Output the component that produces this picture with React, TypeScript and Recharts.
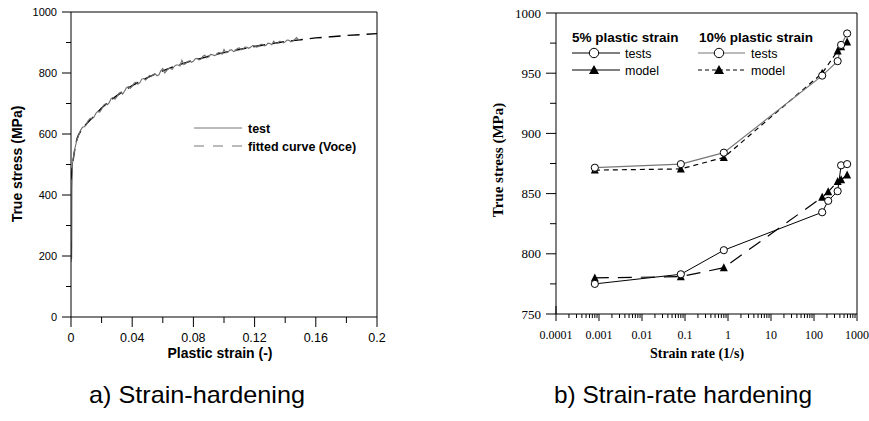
import React from 'react';
import { LineChart, Line, XAxis, YAxis, ReferenceLine } from 'recharts';

const SANS = 'Liberation Sans, Arial, sans-serif';
const SERIF = 'Liberation Serif, Times New Roman, serif';

// a) strain hardening
const strainTicks = [0, 0.02, 0.04, 0.06, 0.08, 0.1, 0.12, 0.14, 0.16, 0.18, 0.2];
const strainTickLabels = ['0', '', '0.04', '', '0.08', '', '0.12', '', '0.16', '', '0.2'];
const stressTicks = [0, 100, 200, 300, 400, 500, 600, 700, 800, 900, 1000];

const testStrain = [
  0, 0.0003, 0.0004, 0.0005, 0.0006, 0.001,
  0.0025, 0.00375, 0.005, 0.00625, 0.0075, 0.00875, 0.01, 0.01125, 0.0125, 0.01375, 0.015, 0.01625,
  0.0175, 0.01875, 0.02, 0.02125, 0.0225, 0.02375, 0.025, 0.02625, 0.0275, 0.02875, 0.03, 0.03125,
  0.0325, 0.03375, 0.035, 0.03625, 0.0375, 0.03875, 0.04, 0.04125, 0.0425, 0.04375, 0.045, 0.04625,
  0.0475, 0.04875, 0.05, 0.05125, 0.0525, 0.05375, 0.055, 0.05625, 0.0575, 0.05875, 0.06, 0.06125,
  0.0625, 0.06375, 0.065, 0.06625, 0.0675, 0.06875, 0.07, 0.07125, 0.0725, 0.07375, 0.075, 0.07625,
  0.0775, 0.07875, 0.08, 0.08125, 0.0825, 0.08375, 0.085, 0.08625, 0.0875, 0.08875, 0.09, 0.09125,
  0.0925, 0.09375, 0.095, 0.09625, 0.0975, 0.09875, 0.1, 0.10125, 0.1025, 0.10375, 0.105, 0.10625,
  0.1075, 0.10875, 0.11, 0.11125, 0.1125, 0.11375, 0.115, 0.11625, 0.1175, 0.11875, 0.12, 0.12125,
  0.1225, 0.12375, 0.125, 0.12625, 0.1275, 0.12875, 0.13, 0.13125, 0.1325, 0.13375, 0.135, 0.13625,
  0.1375, 0.13875, 0.14, 0.14125, 0.1425, 0.14375, 0.145, 0.14625, 0.1475, 0.14875, 0.15,
];
const testStress = [
  180, 250, 190, 230, 420, 505,
  552, 578, 596, 612, 622, 624, 630, 644, 651, 650, 655, 668,
  674, 672, 681, 694, 699, 696, 703, 716, 720, 714, 722, 733,
  737, 731, 740, 752, 755, 750, 756, 767, 770, 763, 768, 780,
  782, 777, 783, 792, 789, 795, 797, 791, 794, 808, 815, 800,
  808, 815, 815, 812, 822, 826, 826, 823, 842, 828, 831, 838,
  840, 835, 839, 847, 848, 843, 846, 855, 858, 850, 853, 861,
  860, 857, 860, 867, 866, 862, 877, 866, 868, 875, 876, 870,
  873, 880, 882, 876, 879, 885, 884, 881, 885, 890, 889, 885,
  887, 893, 894, 889, 891, 898, 897, 893, 904, 897, 898, 904,
  903, 899, 902, 908, 907, 902, 905, 910, 916, 908, 909,
];

const fitStrain = [
  0, 0.001, 0.002, 0.003, 0.004, 0.005, 0.0065, 0.008, 0.01, 0.0125, 0.015, 0.02, 0.025, 0.03,
  0.035, 0.04, 0.045, 0.05, 0.055, 0.06, 0.065, 0.07, 0.075, 0.08, 0.085, 0.09, 0.095, 0.1,
  0.105, 0.11, 0.115, 0.12, 0.125, 0.13, 0.135, 0.14, 0.145, 0.15, 0.16, 0.17, 0.18, 0.19, 0.2,
];
const fitStress = [
  450, 500, 535, 565, 585, 598, 610, 620, 633, 646, 658, 685, 707, 726,
  743, 759, 772, 785, 796, 807, 817, 826, 834, 841, 848, 855, 861, 867,
  872, 877, 882, 887, 891, 895, 899, 903, 906, 909, 915, 919, 923, 926, 929,
];

// b) strain-rate hardening
const rateDecades = [0.0001, 0.001, 0.01, 0.1, 1, 10, 100, 1000];
const rateLabels = ['0.0001', '0.001', '0.01', '0.1', '1', '10', '100', '1000'];
const rateStressTicks = [750, 775, 800, 825, 850, 875, 900, 925, 950, 975, 1000];

const rate5Test = [0.0008, 0.08, 0.8, 155, 214, 355, 427, 590];
const stress5Test = [775, 783, 803, 834.5, 844, 852, 873.5, 874.5];
const rate5Model = [0.0008, 0.08, 0.8, 155, 214, 355, 427, 590];
const stress5Model = [780, 781, 788.5, 847, 851.5, 860, 861.5, 865.5];
const rate10Test = [0.0008, 0.08, 0.8, 155, 355, 427, 590];
const stress10Test = [871.5, 874.5, 884, 948, 960, 973.5, 983];
const rate10Model = [0.0008, 0.08, 0.8, 155, 355, 427, 590];
const stress10Model = [869.5, 870.5, 880, 950, 968.5, 972, 976];

const pts = (xs: number[], ys: number[]) => xs.map((x, i) => ({ x, y: ys[i] }));

const rateTicks: number[] = [];
rateDecades.forEach((d, i) => {
  rateTicks.push(d);
  if (i < rateDecades.length - 1) for (let m = 2; m < 10; m++) rateTicks.push(d * m);
});

const Circle = (p: any) =>
  p.cx == null ? null : <circle key={p.index} cx={p.cx} cy={p.cy} r={3.6} fill="#fff" stroke="#000" strokeWidth={1} />;

const Tri = (p: any) =>
  p.cx == null ? null : (
    <path key={p.index} d={`M${p.cx - 4},${p.cy + 3.5}L${p.cx + 4},${p.cy + 3.5}L${p.cx},${p.cy - 4.5}Z`} fill="#000" />
  );

function LeftYTick({ x, y, index }: any) {
  const major = index % 2 === 0;
  return (
    <g>
      <line x1={x - (major ? 9 : 5)} x2={x} y1={y} y2={y} stroke="#000" />
      {major && (
        <text x={x - 14} y={y} dy="0.36em" textAnchor="end" fontFamily={SANS} fontSize={11} fill="#000">
          {stressTicks[index]}
        </text>
      )}
    </g>
  );
}

function LeftXTick({ x, y, index }: any) {
  const major = index % 2 === 0;
  return (
    <g>
      <line x1={x} x2={x} y1={y} y2={y + (major ? 10 : 6)} stroke="#000" />
      {major && (
        <text x={x} y={y + 20} dy="0.36em" textAnchor="middle" fontFamily={SANS} fontSize={12.5} fill="#000">
          {strainTickLabels[index]}
        </text>
      )}
    </g>
  );
}

function RightYTick({ x, y, index }: any) {
  const major = index % 2 === 0;
  return (
    <g>
      <line x1={x - (major ? 10 : 6)} x2={x} y1={y} y2={y} stroke="#000" />
      {major && (
        <text x={x - 15} y={y} dy="0.36em" textAnchor="end" fontFamily={SERIF} fontSize={13} fill="#000">
          {rateStressTicks[index]}
        </text>
      )}
    </g>
  );
}

function RightXTick({ x, y, payload }: any) {
  const di = rateDecades.findIndex((d) => Math.abs(d - payload.value) < d * 1e-6);
  const major = di >= 0;
  return (
    <g>
      <line x1={x} x2={x} y1={di === 0 ? y - 8 : y} y2={y + (major ? 7 : 4)} stroke="#000" />
      {major && (
        <text x={x} y={y + 21} dy="0.36em" textAnchor="middle" fontFamily={SERIF} fontSize={12} fill="#000">
          {rateLabels[di]}
        </text>
      )}
    </g>
  );
}

export default function App() {
  return (
    <div style={{ position: 'absolute', left: 0, top: 0, width: 869, height: 421, background: '#fff', overflow: 'hidden' }}>
      <div style={{ position: 'absolute', left: 0, top: 0 }}>
        <LineChart width={400} height={370} margin={{ top: 12, right: 23, bottom: 8, left: 11 }}>
          <XAxis
            type="number"
            dataKey="x"
            domain={[0, 0.2]}
            ticks={strainTicks}
            allowDataOverflow
            height={45}
            tickSize={0}
            tickMargin={0}
            tickLine={false}
            axisLine={{ stroke: '#000' }}
            tick={LeftXTick}
            interval={0}
          />
          <YAxis
            type="number"
            domain={[0, 1000]}
            ticks={stressTicks}
            allowDataOverflow
            width={60}
            tickSize={0}
            tickMargin={0}
            tickLine={false}
            axisLine={{ stroke: '#000' }}
            tick={LeftYTick}
            interval={0}
          />
          <ReferenceLine y={1000} stroke="#000" />
          <ReferenceLine x={0.2} stroke="#000" />
          <Line
            data={pts(fitStrain, fitStress)}
            dataKey="y"
            type="linear"
            stroke="#000"
            strokeWidth={1.4}
            strokeDasharray="12 7"
            dot={false}
            isAnimationActive={false}
          />
          <Line
            data={pts(testStrain, testStress)}
            dataKey="y"
            type="linear"
            stroke="#6e6e6e"
            strokeWidth={1.1}
            dot={false}
            isAnimationActive={false}
          />
        </LineChart>
      </div>

      <div style={{ position: 'absolute', left: 440, top: 0 }}>
        <LineChart width={429} height={370} margin={{ top: 13, right: 12, bottom: 11, left: 56 }}>
          <XAxis
            type="number"
            dataKey="x"
            scale="log"
            domain={[0.0001, 1000]}
            ticks={rateTicks}
            allowDataOverflow
            height={45}
            tickSize={0}
            tickMargin={0}
            tickLine={false}
            axisLine={{ stroke: '#000' }}
            tick={RightXTick}
            interval={0}
          />
          <YAxis
            type="number"
            domain={[750, 1000]}
            ticks={rateStressTicks}
            allowDataOverflow
            width={60}
            tickSize={0}
            tickMargin={0}
            tickLine={false}
            axisLine={{ stroke: '#000' }}
            tick={RightYTick}
            interval={0}
          />
          <ReferenceLine y={1000} stroke="#000" />
          <ReferenceLine x={1000} stroke="#000" />
          <Line
            data={pts(rate10Model, stress10Model)}
            dataKey="y"
            stroke="#000"
            strokeWidth={1.2}
            strokeDasharray="5 4"
            dot={Tri}
            isAnimationActive={false}
          />
          <Line
            data={pts(rate10Test, stress10Test)}
            dataKey="y"
            stroke="#777"
            strokeWidth={1.2}
            dot={Circle}
            isAnimationActive={false}
          />
          <Line
            data={pts(rate5Model, stress5Model)}
            dataKey="y"
            stroke="#000"
            strokeWidth={1.2}
            strokeDasharray="14 9"
            dot={Tri}
            isAnimationActive={false}
          />
          <Line
            data={pts(rate5Test, stress5Test)}
            dataKey="y"
            stroke="#000"
            strokeWidth={1}
            dot={Circle}
            isAnimationActive={false}
          />
        </LineChart>
      </div>

      <svg width={869} height={421} style={{ position: 'absolute', left: 0, top: 0, pointerEvents: 'none' }}>
        {/* left axis titles and legend */}
        <text x={17} y={164} dy="0.36em" transform="rotate(-90 17 164)" textAnchor="middle" fontFamily={SANS} fontWeight="bold" fontSize={14}>
          True stress (MPa)
        </text>
        <text x={220} y={353} dy="0.36em" textAnchor="middle" fontFamily={SANS} fontWeight="bold" fontSize={14}>
          Plastic strain (-)
        </text>
        <line x1={194} x2={242} y1={128} y2={128} stroke="#777" />
        <text x={248} y={128} dy="0.36em" fontFamily={SANS} fontWeight="bold" fontSize={12.5}>test</text>
        <line x1={194} x2={242} y1={146} y2={146} stroke="#777" strokeDasharray="10 9" />
        <text x={248} y={146} dy="0.36em" fontFamily={SANS} fontWeight="bold" fontSize={12.5}>fitted curve (Voce)</text>

        {/* right axis titles and legend */}
        <text x={498} y={160} dy="0.36em" transform="rotate(-90 498 160)" textAnchor="middle" fontFamily={SERIF} fontWeight="bold" fontSize={15}>
          True stress (MPa)
        </text>
        <text x={697} y={353} dy="0.36em" textAnchor="middle" fontFamily={SERIF} fontWeight="bold" fontSize={14}>
          Strain rate (1/s)
        </text>

        <text x={572} y={37} dy="0.36em" fontFamily={SANS} fontWeight="bold" fontSize={13.5}>5% plastic strain</text>
        <line x1={572} x2={620} y1={53} y2={53} stroke="#000" />
        <circle cx={594} cy={53} r={4.7} fill="#fff" stroke="#000" />
        <text x={625} y={53} dy="0.36em" fontFamily={SANS} fontSize={12.5}>tests</text>
        <line x1={572} x2={620} y1={70} y2={70} stroke="#000" />
        <path d="M589,74L599,74L594,65Z" fill="#000" />
        <text x={625} y={70} dy="0.36em" fontFamily={SANS} fontSize={12.5}>model</text>

        <text x={699} y={37} dy="0.36em" fontFamily={SANS} fontWeight="bold" fontSize={13.5}>10% plastic strain</text>
        <line x1={698} x2={745} y1={53} y2={53} stroke="#777" />
        <circle cx={719} cy={53} r={4.7} fill="#fff" stroke="#000" />
        <text x={751} y={53} dy="0.36em" fontFamily={SANS} fontSize={12.5}>tests</text>
        <line x1={698} x2={745} y1={70} y2={70} stroke="#000" strokeDasharray="4 3" />
        <path d="M714,74L724,74L719,65Z" fill="#000" />
        <text x={751} y={70} dy="0.36em" fontFamily={SANS} fontSize={12.5}>model</text>

        {/* captions */}
        <text x={89} y={403} fontFamily={SANS} fontSize={24} textLength={216} lengthAdjust="spacingAndGlyphs">
          a) Strain-hardening
        </text>
        <text x={554} y={403} fontFamily={SANS} fontSize={24} textLength={258} lengthAdjust="spacingAndGlyphs">
          b) Strain-rate hardening
        </text>
      </svg>
    </div>
  );
}
